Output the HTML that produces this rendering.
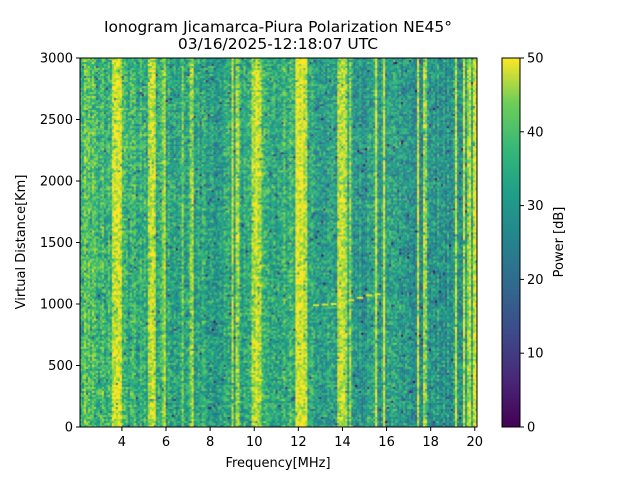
<!DOCTYPE html>
<html><head><meta charset="utf-8"><style>
body{margin:0;background:#fff;width:640px;height:480px;overflow:hidden;font-family:"DejaVu Sans","Liberation Sans",sans-serif;}
</style></head><body>
<svg id="fig" width="640" height="480" xmlns="http://www.w3.org/2000/svg">
<text x="278" y="32" font-size="15.5" text-anchor="middle">Ionogram Jicamarca-Piura Polarization NE45°</text>
<text x="278" y="49" font-size="15.5" text-anchor="middle">03/16/2025-12:18:07 UTC</text>
<foreignObject x="80" y="58" width="397" height="369"><canvas id="hm" width="397" height="369" xmlns="http://www.w3.org/1999/xhtml" style="display:block"></canvas></foreignObject>
<rect x="80" y="58" width="397" height="369" fill="none" stroke="#000" stroke-width="1"/>
<g id="xt"></g>
<g id="yt"></g>
<text x="278" y="467" font-size="13" text-anchor="middle">Frequency[MHz]</text>
<text x="25" y="242" font-size="13" text-anchor="middle" transform="rotate(-90 25 242)">Virtual Distance[Km]</text>
<defs><linearGradient id="vir" x1="0" y1="1" x2="0" y2="0">
<stop offset="0" stop-color="#440154"/><stop offset="0.13" stop-color="#482878"/><stop offset="0.25" stop-color="#3e4989"/><stop offset="0.38" stop-color="#31688e"/><stop offset="0.5" stop-color="#26828e"/><stop offset="0.63" stop-color="#1f9e89"/><stop offset="0.75" stop-color="#35b779"/><stop offset="0.88" stop-color="#6ece58"/><stop offset="1" stop-color="#fde725"/></linearGradient></defs>
<rect x="502" y="58" width="18" height="369" fill="url(#vir)" stroke="#000" stroke-width="1"/>
<g id="ct"></g>
<text x="563" y="242" font-size="13" text-anchor="middle" transform="rotate(-90 563 242)">Power [dB]</text>
</svg>
<script>
const xTicks=[4,6,8,10,12,14,16,18,20];
const yTicks=[0,500,1000,1500,2000,2500,3000];
const cTicks=[0,10,20,30,40,50];
// bands: frequency start, end, power (dB)
const bandStart=[2.1,3.62,3.76,3.89,5.18,5.3,5.42,5.88,6.76,7.16,9.0,9.2,9.9,10.1,11.9,13.77,13.92,14.12,14.35,15.52,15.87,17.41,17.71,19.11,19.47,19.72,19.96];
const bandEnd=[2.9,3.66,3.8,3.93,5.26,5.38,5.52,5.92,6.8,7.2,9.05,9.25,10.0,10.3,12.4,13.81,13.96,14.16,14.4,15.56,15.91,17.45,17.75,19.15,19.53,19.78,20.1];
const bandPower=[36,45,45,45,45,45,45,42,41,42,44,44,46,46,47,44,43,43,45,44,45,44,42,45,45,45,47];
// background level by frequency region
const bgFreq=[2.1,4,6,8,10,12,14,16,18,20.1];
const bgPower=[35,32,30,29,31,32,28,27,26,26];
// echo trace near 1000 km
const echoFreq=[12.8,13.2,13.6,14.0,14.4,14.8,15.2,15.6];
const echoDist=[990,995,1000,1010,1030,1050,1070,1080];

const fMin=2.1,fMax=20.1,dMax=3000,W=397,H=369,X0=80,Y0=58;
const xs=f=>X0+(f-fMin)/(fMax-fMin)*W;
const ys=d=>Y0+H-(d/dMax)*H;
const vir=[[68,1,84],[72,40,120],[62,73,137],[49,104,142],[38,130,142],[31,158,137],[53,183,121],[110,206,88],[181,222,43],[253,231,37]];
function cmap(v){v=Math.max(0,Math.min(50,v))/50*9;const i=Math.min(8,Math.floor(v)),t=v-i,a=vir[i],b=vir[i+1];return `rgb(${a.map((c,k)=>Math.round(c+(b[k]-c)*t)).join(',')})`;}
function hash(i,j){let h=i*374761393+j*668265263;h=(h^(h>>>13))*1274126177;h=h^(h>>>16);return ((h>>>0)%10000)/10000;}
function bg(f){for(let k=0;k<bgFreq.length-1;k++)if(f<=bgFreq[k+1]){const t=(f-bgFreq[k])/(bgFreq[k+1]-bgFreq[k]);return bgPower[k]+(bgPower[k+1]-bgPower[k])*t;}return bgPower[bgPower.length-1];}
const ctx=document.getElementById('hm').getContext('2d');
const nc=199,nr=184,cw=W/nc,rh=H/nr;
const colBase=[];
for(let i=0;i<nc;i++){const f0=fMin+i/nc*(fMax-fMin),f1=fMin+(i+1)/nc*(fMax-fMin);let p=bg((f0+f1)/2);for(let k=0;k<bandStart.length;k++)if(f1>bandStart[k]&&f0<bandEnd[k])p=Math.max(p,bandPower[k]);colBase.push(p+(hash(i,9999)-0.5)*7);}
for(let i=0;i<nc;i++)for(let j=0;j<nr;j++){
  const n=hash(i,j),n2=hash(j,i+77),n3=hash(j*3+1,i>>2);
  let v=colBase[i]+(n-0.5)*16+(n3-0.5)*5+(n2<0.02?-18:0);
  ctx.fillStyle=cmap(v);ctx.fillRect(i*cw,j*rh,cw+0.5,rh+0.5);}
for(let k=0;k<echoFreq.length;k++){ctx.fillStyle=cmap(48);ctx.fillRect(xs(echoFreq[k])-X0-3,ys(echoDist[k])-Y0-1,6,2);}
const NS='http://www.w3.org/2000/svg';
function mk(tag,at,par,txt){const e=document.createElementNS(NS,tag);for(const k in at)e.setAttribute(k,at[k]);if(txt!=null)e.textContent=txt;par.appendChild(e);return e;}
const xt=document.getElementById('xt'),yt=document.getElementById('yt'),ct=document.getElementById('ct');
xTicks.forEach(t=>{const x=xs(t);const l=mk('line',{x1:x,x2:x,y1:427,y2:431,stroke:'#000'},xt);


const tx=mk('text',{x:x,y:446,'font-size':13,'text-anchor':'middle'},xt,t);

});
yTicks.forEach(t=>{const y=ys(t);const l=mk('line',{x1:76,x2:80,y1:y,y2:y,stroke:'#000'},yt);


const tx=mk('text',{x:73,y:y+4.5,'font-size':13,'text-anchor':'end'},yt,t);

});
cTicks.forEach(t=>{const y=427-t/50*369;const l=mk('line',{x1:520,x2:524,y1:y,y2:y,stroke:'#000'},ct);


const tx=mk('text',{x:527,y:y+4.5,'font-size':13},ct,t);

});
</script>
</body></html>
